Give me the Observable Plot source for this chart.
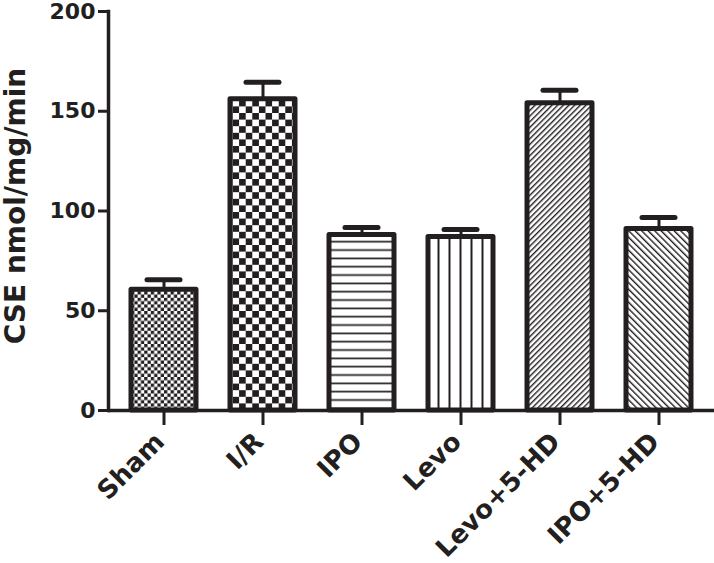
<!DOCTYPE html>
<html><head><meta charset="utf-8">
<script src="https://cdn.jsdelivr.net/npm/d3@7"></script>
<script src="https://cdn.jsdelivr.net/npm/@observablehq/plot@0.6"></script>
<style>
html,body{margin:0;padding:0;background:#fff;}
#chart svg{display:block;}
</style></head><body><div id="chart"></div>
<script>
const groups = ["Sham", "I/R", "IPO", "Levo", "Levo+5-HD", "IPO+5-HD"];
const means = [60.5, 156, 88, 87, 154, 91];
const sems = [5, 8.5, 3.7, 3.7, 6.5, 5.7];
const patternNames = ["fineChecker", "coarseChecker", "hLines", "vLines", "diagUp", "diagDown"];
const yTicks = [0, 50, 100, 150, 200];
const yLabel = "CSE nmol/mg/min";

const data = groups.map((g, i) => ({group: g, mean: means[i], sem: sems[i], fill: `url(#pat-${patternNames[i]})`}));

const ink = "#231f20";
const font = "'DejaVu Sans', sans-serif";

const plot = Plot.plot({
  width: 714, height: 563,
  marginLeft: 108, marginRight: 0, marginTop: 11, marginBottom: 153,
  style: {fontFamily: font, fontWeight: "bold", background: "#fff", color: ink},
  x: {domain: groups, paddingInner: 0.34, paddingOuter: 0.2, align: 0.5},
  y: {domain: [0, 200]},
  color: {type: "identity"},
  marks: [
    Plot.barY(data, {x: "group", y: "mean", fill: "fill", stroke: ink, strokeWidth: 5, strokeLinejoin: "round"}),
    Plot.ruleX(data, {x: "group", y1: "mean", y2: d => d.mean + d.sem, stroke: ink, strokeWidth: 3}),
    Plot.tickY(data, {x: "group", y: d => d.mean + d.sem, stroke: ink, strokeWidth: 5, strokeLinecap: "round", insetLeft: 16, insetRight: 16}),
    Plot.ruleY([0], {stroke: ink, strokeWidth: 3.5}),
    Plot.frame({anchor: "left", stroke: ink, strokeWidth: 3.5}),
    Plot.axisY({ticks: yTicks, tickSize: 10, tickPadding: 3, stroke: ink, strokeWidth: 3, fontSize: 22, label: null}),
    Plot.axisX({tickSize: 15, stroke: ink, strokeWidth: 3, label: null, text: null}),
    Plot.axisX({tickSize: 0, tickRotate: -45, fontSize: 26, tickPadding: 27, dx: -4, label: null, fill: ink}),
    Plot.text([yLabel], {frameAnchor: "left", textAnchor: "middle", rotate: -90, dx: -92, dy: -5, fontSize: 28, fontWeight: "bold", fill: ink})
  ]
});

// patterns
const svg = d3.select(plot);
const xs = plot.scale("x");
const ys = plot.scale("y");
const center = g => xs.apply(g) + xs.bandwidth / 2;
const y0 = ys.apply(0);
const defs = svg.insert("defs", ":first-child");

function pat(id, w, h, attrs) {
  const p = defs.append("pattern").attr("id", "pat-" + id).attr("patternUnits", "userSpaceOnUse")
    .attr("width", w).attr("height", h);
  for (const [k, v] of Object.entries(attrs || {})) p.attr(k, v);
  p.append("rect").attr("width", w).attr("height", h).attr("fill", "#fff");
  return p;
}
// fine checker (Sham)
{
  const c = 3.3;
  const p = pat("fineChecker", 2 * c, 2 * c, {x: xs.apply("Sham"), y: y0});
  p.append("rect").attr("width", c).attr("height", c).attr("fill", ink);
  p.append("rect").attr("x", c).attr("y", c).attr("width", c).attr("height", c).attr("fill", ink);
}
// coarse checker (I/R)
{
  const c = 6.6;
  const p = pat("coarseChecker", 2 * c, 2 * c, {x: xs.apply("I/R") + 2.5, y: y0});
  p.append("rect").attr("width", c).attr("height", c).attr("fill", ink);
  p.append("rect").attr("x", c).attr("y", c).attr("width", c).attr("height", c).attr("fill", ink);
}
// horizontal lines (IPO)
{
  const s = 8.33;
  const p = pat("hLines", 10, s, {x: 0, y: y0 - 10 - s / 2});
  p.append("rect").attr("y", s / 2 - 0.85).attr("width", 10).attr("height", 1.7).attr("fill", ink);
}
// vertical lines (Levo)
{
  const s = 11;
  const p = pat("vLines", s, 10, {x: center("Levo") - s / 2, y: 0});
  p.append("rect").attr("x", s / 2 - 1).attr("width", 2).attr("height", 10).attr("fill", ink);
}
// diagonal up ///
{
  const s = 4;
  const p = pat("diagUp", s, 10, {patternTransform: "rotate(45)"});
  p.append("rect").attr("width", 1.4).attr("height", 10).attr("fill", ink);
}
// diagonal down \\\
{
  const s = 4.6;
  const p = pat("diagDown", s, 10, {patternTransform: "rotate(-45)"});
  p.append("rect").attr("width", 1.4).attr("height", 10).attr("fill", ink);
}

document.getElementById("chart").appendChild(plot);
</script>
</body></html>
